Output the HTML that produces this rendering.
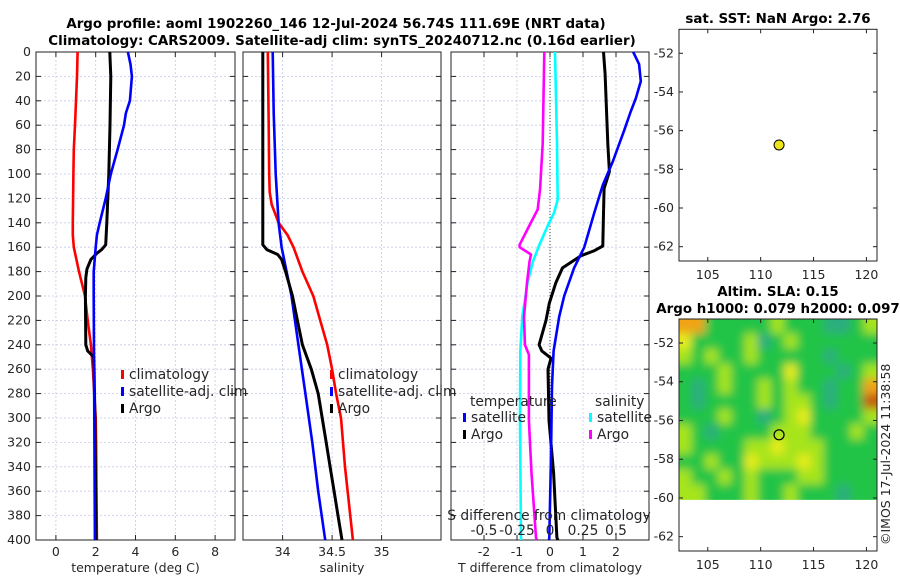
<!DOCTYPE html>
<html><head><meta charset="utf-8">
<style>
html,body{margin:0;padding:0;background:#fff;}
svg{display:block;font-family:"DejaVu Sans","Liberation Sans",sans-serif;}
.tk{font-size:12.5px;fill:#262626;}
.tt{font-size:13.4px;font-weight:bold;fill:#000;}
.lg{font-size:13.8px;fill:#262626;}
</style></head>
<body>
<svg id="fig" width="900" height="580" viewBox="0 0 900 580" xmlns="http://www.w3.org/2000/svg">
<text class="tt" x="336" y="28" text-anchor="middle">Argo profile: aoml 1902260_146 12-Jul-2024 56.74S 111.69E (NRT data)</text>
<text class="tt" x="342" y="45" text-anchor="middle">Climatology: CARS2009. Satellite-adj clim: synTS_20240712.nc (0.16d earlier)</text>
<text class="tt" x="778" y="23" text-anchor="middle">sat. SST: NaN Argo: 2.76</text>
<text class="tt" x="778" y="296" text-anchor="middle">Altim. SLA: 0.15</text>
<text class="tt" x="778" y="313" text-anchor="middle">Argo h1000: 0.079 h2000: 0.097</text>
<text class="tk" transform="translate(890,545) rotate(-90)">©IMOS 17-Jul-2024 11:38:58</text>
<g id="g"></g>
</svg>
<script>
// ---------- data ----------
const depthTicks = [0,20,40,60,80,100,120,140,160,180,200,220,240,260,280,300,320,340,360,380,400];
// panel 1: temperature (depth, value)
const tempClimDepth = [0,20,60,80,100,140,150,160,180,200,220,240,260,300,320,400];
const tempClimVal   = [1.09,1.06,0.96,0.9,0.88,0.85,0.85,0.9,1.16,1.46,1.6,1.76,1.86,2.0,2.02,2.06];
const tempSatDepth  = [0,10,20,40,50,60,80,100,120,140,150,160,180,200,300,400];
const tempSatVal    = [3.62,3.75,3.82,3.72,3.52,3.42,3.1,2.76,2.5,2.2,2.06,2.0,1.9,1.9,1.93,1.96];
const tempArgoDepth = [0,20,60,100,140,158,162,165,170,178,185,200,240,245,250,260,300,400];
const tempArgoVal   = [2.71,2.76,2.72,2.66,2.56,2.5,2.3,2.06,1.76,1.56,1.5,1.48,1.5,1.6,1.9,1.92,1.96,2.02];
// panel 2: salinity
const salClimDepth = [0,60,100,115,125,140,150,160,180,200,220,240,260,280,300,340,400];
const salClimVal   = [33.85,33.86,33.865,33.87,33.89,33.96,34.05,34.11,34.2,34.31,34.38,34.45,34.5,34.54,34.59,34.63,34.71];
const salSatDepth  = [0,50,100,140,160,180,200,240,280,320,360,400];
const salSatVal    = [33.9,33.91,33.93,33.96,33.99,34.04,34.09,34.16,34.23,34.3,34.36,34.43];
const salArgoDepth = [0,155,158,162,166,170,180,200,220,240,260,280,300,320,340,360,380,400];
const salArgoVal   = [33.8,33.8,33.8,33.84,33.95,33.99,34.03,34.1,34.15,34.2,34.29,34.36,34.4,34.44,34.48,34.52,34.56,34.6];
// panel 3: differences
const dTArgoDepth = [0,18,75,98,112,132,159,163,167,177,189,206,220,240,245,251,260,302,345,398,400];
const dTArgoVal   = [1.62,1.67,1.75,1.8,1.64,1.62,1.6,1.33,0.94,0.38,0.18,-0.02,-0.12,-0.33,-0.25,0.03,-0.06,-0.03,0.11,0.21,0.24];
const dTSatDepth  = [0,10,24,38,50,64,90,109,132,160,177,200,217,245,274,331,398,400];
const dTSatVal    = [2.52,2.7,2.75,2.6,2.43,2.25,1.9,1.6,1.34,1.04,0.73,0.43,0.28,0.11,0.06,0.03,-0.02,-0.03];
const dSSatDepth  = [0,75,121,132,143,158,172,189,217,245,302,398,400];
const dSSatVal    = [0.038,0.053,0.058,0.03,-0.02,-0.08,-0.13,-0.17,-0.21,-0.225,-0.227,-0.22,-0.22];
const dSArgoDepth = [0,75,112,129,143,158,160,166,172,189,217,240,248,302,345,398,400];
const dSArgoVal   = [-0.043,-0.055,-0.075,-0.093,-0.16,-0.23,-0.23,-0.144,-0.155,-0.174,-0.197,-0.19,-0.16,-0.16,-0.14,-0.106,-0.10];
// maps
const argoLon = 111.74, argoLat = -56.74;
const lonTicks = [105,110,115,120];
const latTicks = [-52,-54,-56,-58,-60,-62];
const slaLevels = [
 [4,4,1,1,1,1,1,2,1,1,1,0,0,1,2],
 [3,1,1,1,1,2,0,1,2,1,1,1,1,1,1],
 [2,1,2,1,1,2,1,1,1,1,1,0,1,1,1],
 [1,1,1,2,1,1,1,1,3,1,1,1,0,1,2],
 [1,0,1,2,1,1,2,1,2,1,1,0,1,1,4],
 [1,0,1,1,1,1,2,1,2,2,1,0,1,1,5],
 [1,1,1,2,1,1,0,1,2,3,1,1,1,1,2],
 [2,1,0,1,1,1,1,2,2,2,1,1,1,2,1],
 [2,1,1,1,1,2,2,3,2,2,2,1,1,1,1],
 [1,1,2,1,1,3,2,2,2,3,2,1,1,1,1],
 [2,1,1,2,1,2,1,1,1,2,2,1,1,1,1],
 [2,2,1,1,1,2,1,1,2,1,1,1,0,1,1]];
const slaColors = ['#2aae7e','#22c447','#a6e41e','#e6ec1c','#f0a418','#c85a10'];

// ---------- drawing ----------
const NS='http://www.w3.org/2000/svg';
const G=document.getElementById('g');
function el(tag,attrs,parent){const e=document.createElementNS(NS,tag);for(const k in attrs)e.setAttribute(k,attrs[k]);(parent||G).appendChild(e);return e;}
const TOP=52, BOT=540;
const yD = d => TOP + d*(BOT-TOP)/400;

function panel(name,x0,x1,xmin,xmax,xticks,xlabels,xtitle,showY){
  const sx = v => x0 + (v-xmin)*(x1-x0)/(xmax-xmin);
  const grp = el('g',{});
  
  
  depthTicks.forEach(d=>{
    const l=el('line',{x1:x0,x2:x1,y1:yD(d),y2:yD(d),stroke:'#c4cae6','stroke-width':0.8,'stroke-dasharray':'2,2'},grp);
    
    
    el('line',{x1:x0,x2:x0+5,y1:yD(d),y2:yD(d),stroke:'#222'},grp);
    el('line',{x1:x1-5,x2:x1,y1:yD(d),y2:yD(d),stroke:'#222'},grp);
    if(showY){const t=el('text',{x:x0-5,y:yD(d)+4,'text-anchor':'end',class:'tk'},grp);t.textContent=d;
      
      }
  });
  xticks.forEach((v,i)=>{
    const l=el('line',{x1:sx(v),x2:sx(v),y1:TOP,y2:BOT,stroke:'#c4cae6','stroke-width':0.8,'stroke-dasharray':'2,2'},grp);
    
    
    el('line',{x1:sx(v),x2:sx(v),y1:BOT-5,y2:BOT,stroke:'#222'},grp);
    el('line',{x1:sx(v),x2:sx(v),y1:TOP,y2:TOP+5,stroke:'#222'},grp);
    const t=el('text',{x:sx(v),y:BOT+16,'text-anchor':'middle',class:'tk'},grp);t.textContent=xlabels[i];
    
    
  });
  const f=el('rect',{x:x0,y:TOP,width:x1-x0,height:BOT-TOP,fill:'none',stroke:'#222','stroke-width':1},grp);
  
  
  const tt=el('text',{x:(x0+x1)/2,y:BOT+32,'text-anchor':'middle',class:'tk','font-size':'13.8'},grp);tt.textContent=xtitle;
  
  
  return {sx,grp};
}
function line(p,sx,depths,vals,color,name,w){
  const pts=depths.map((d,i)=>sx(vals[i]).toFixed(1)+','+yD(d).toFixed(1)).join(' ');
  const l=el('polyline',{points:pts,fill:'none',stroke:color,'stroke-width':w||2.6,'stroke-linejoin':'round'},p.grp);
  
  
}
function legend(parent,x,y,color,label,name){
  if(color){el('rect',{x:x,y:y-8,width:3,height:9,fill:color},parent);}
  const t=el('text',{x:x+8,y:y+1,class:'lg'},parent);t.textContent=label;
  
  
}

// panel 1
const p1=panel('temperature-panel',36,235,-1,9,[0,2,4,6,8],['0','2','4','6','8'],'temperature (deg C)',true);
line(p1,p1.sx,tempClimDepth,tempClimVal,'#f00','temp-climatology-line');
line(p1,p1.sx,tempArgoDepth,tempArgoVal,'#000','temp-argo-line',3);
line(p1,p1.sx,tempSatDepth,tempSatVal,'#00f','temp-satellite-line');
legend(p1.grp,121,378,'#f00','climatology','legend-climatology');
legend(p1.grp,121,395,'#00f','satellite-adj. clim','legend-satellite-adj');
legend(p1.grp,121,412,'#000','Argo','legend-argo');

// panel 2
const p2=panel('salinity-panel',243,441,33.6,35.6,[34,34.5,35],['34','34.5','35'],'salinity',false);
line(p2,p2.sx,salClimDepth,salClimVal,'#f00','sal-climatology-line');
line(p2,p2.sx,salSatDepth,salSatVal,'#00f','sal-satellite-line');
line(p2,p2.sx,salArgoDepth,salArgoVal,'#000','sal-argo-line',3);
legend(p2.grp,330,378,'#f00','climatology','legend-climatology-2');
legend(p2.grp,330,395,'#00f','satellite-adj. clim','legend-satellite-adj-2');
legend(p2.grp,330,412,'#000','Argo','legend-argo-2');

// panel 3
const p3=panel('difference-panel',451,649,-3,3,[-2,-1,0,1,2],['-2','-1','0','1','2'],'T difference from climatology',false);
const sxS = v => p3.sx(v*4);
el('line',{x1:p3.sx(0),x2:p3.sx(0),y1:TOP,y2:BOT,stroke:'#444','stroke-width':1,'stroke-dasharray':'1,2'},p3.grp);
line(p3,sxS,dSSatDepth,dSSatVal,'#0ff','dS-satellite-line');
line(p3,sxS,dSArgoDepth,dSArgoVal,'#f0f','dS-argo-line');
line(p3,p3.sx,dTArgoDepth,dTArgoVal,'#000','dT-argo-line',3);
line(p3,p3.sx,dTSatDepth,dTSatVal,'#00f','dT-satellite-line');
legend(p3.grp,462,405,null,'temperature','legend-temperature-header');
legend(p3.grp,463,421,'#00f','satellite','legend-dT-satellite');
legend(p3.grp,463,438,'#000','Argo','legend-dT-argo');
legend(p3.grp,587,405,null,'salinity','legend-salinity-header');
legend(p3.grp,589,421,'#0ff','satellite','legend-dS-satellite');
legend(p3.grp,589,438,'#f0f','Argo','legend-dS-argo');
{const t=el('text',{x:549,y:520,'text-anchor':'middle',class:'lg'},p3.grp);t.textContent='S difference from climatology';

}
const sTicks=[-0.5,-0.25,0,0.25,0.5], sLabels=['-0.5','-0.25','0','0.25','0.5'];
sTicks.forEach((v,i)=>{const t=el('text',{x:sxS(v),y:535,'text-anchor':'middle',class:'lg'},p3.grp);t.textContent=sLabels[i];

});

// maps
function mapAxes(name,y0,y1){
  const x0=679,x1=877, lon0=102.28, lon1=121.0, lat0=-50.76, lat1=-62.74;
  const mx=v=>x0+(v-lon0)*(x1-x0)/(lon1-lon0);
  const my=v=>y0+(v-lat0)*(y1-y0)/(lat1-lat0);
  const grp=el('g',{});
  
  
  return {x0,x1,y0,y1,mx,my,grp,lon0,lon1,lat0,lat1};
}
function mapFrame(m){
  lonTicks.forEach(v=>{
    el('line',{x1:m.mx(v),x2:m.mx(v),y1:m.y1-4,y2:m.y1,stroke:'#222'},m.grp);
    el('line',{x1:m.mx(v),x2:m.mx(v),y1:m.y0,y2:m.y0+4,stroke:'#222'},m.grp);
    const t=el('text',{x:m.mx(v),y:m.y1+18,'text-anchor':'middle',class:'tk','font-size':'13'},m.grp);t.textContent=v;
    
    
  });
  latTicks.forEach(v=>{
    el('line',{x1:m.x0,x2:m.x0+4,y1:m.my(v),y2:m.my(v),stroke:'#222'},m.grp);
    el('line',{x1:m.x1-4,x2:m.x1,y1:m.my(v),y2:m.my(v),stroke:'#222'},m.grp);
    const t=el('text',{x:m.x0-5,y:m.my(v)+4,'text-anchor':'end',class:'tk','font-size':'13'},m.grp);t.textContent=v;
    
    
  });
  const f=el('rect',{x:m.x0,y:m.y0,width:m.x1-m.x0,height:m.y1-m.y0,fill:'none',stroke:'#222'},m.grp);
  
  
}
const m1=mapAxes('sst-map',29.3,261);
mapFrame(m1);
{const c=el('circle',{cx:m1.mx(argoLon),cy:m1.my(argoLat),r:5,fill:'#ede51a',stroke:'#000','stroke-width':1},m1.grp);

}

const m2=mapAxes('sla-map',319,551);
const defs=el('defs',{});
const flt=el('filter',{id:'bl',x:'-0.1',y:'-0.1',width:'1.2',height:'1.2'},defs);
el('feGaussianBlur',{stdDeviation:'4.5',edgeMode:'duplicate'},flt);
const clip=el('clipPath',{id:'cp'},defs);
const hmLatBottom=-60.1;
el('rect',{x:m2.x0,y:m2.y0,width:m2.x1-m2.x0,height:m2.my(hmLatBottom)-m2.y0},clip);
const hm=el('g',{'clip-path':'url(#cp)'},m2.grp);


const hmInner=el('g',{filter:'url(#bl)'},hm);
const rows=slaLevels.length, cols=slaLevels[0].length;
const dLon=(m2.lon1-m2.lon0)/cols, dLat=(m2.lat0-hmLatBottom)/rows;
slaLevels.forEach((row,r)=>row.forEach((v,c)=>{
  let xa=m2.mx(m2.lon0+c*dLon), xb=m2.mx(m2.lon0+(c+1)*dLon);
  let ya=m2.my(m2.lat0-r*dLat), yb=m2.my(m2.lat0-(r+1)*dLat);
  if(c===0) xa-=12; if(c===cols-1) xb+=12;
  if(r===0) ya-=12; if(r===rows-1) yb+=12;
  const cell=el('rect',{x:xa-0.5,y:ya-0.5,width:xb-xa+1,height:yb-ya+1,fill:slaColors[v]},hmInner);
  
  
}));
mapFrame(m2);
{const c=el('circle',{cx:m2.mx(argoLon),cy:m2.my(argoLat),r:5,fill:'none',stroke:'#000','stroke-width':1.2},m2.grp);

}
</script>
</body></html>
